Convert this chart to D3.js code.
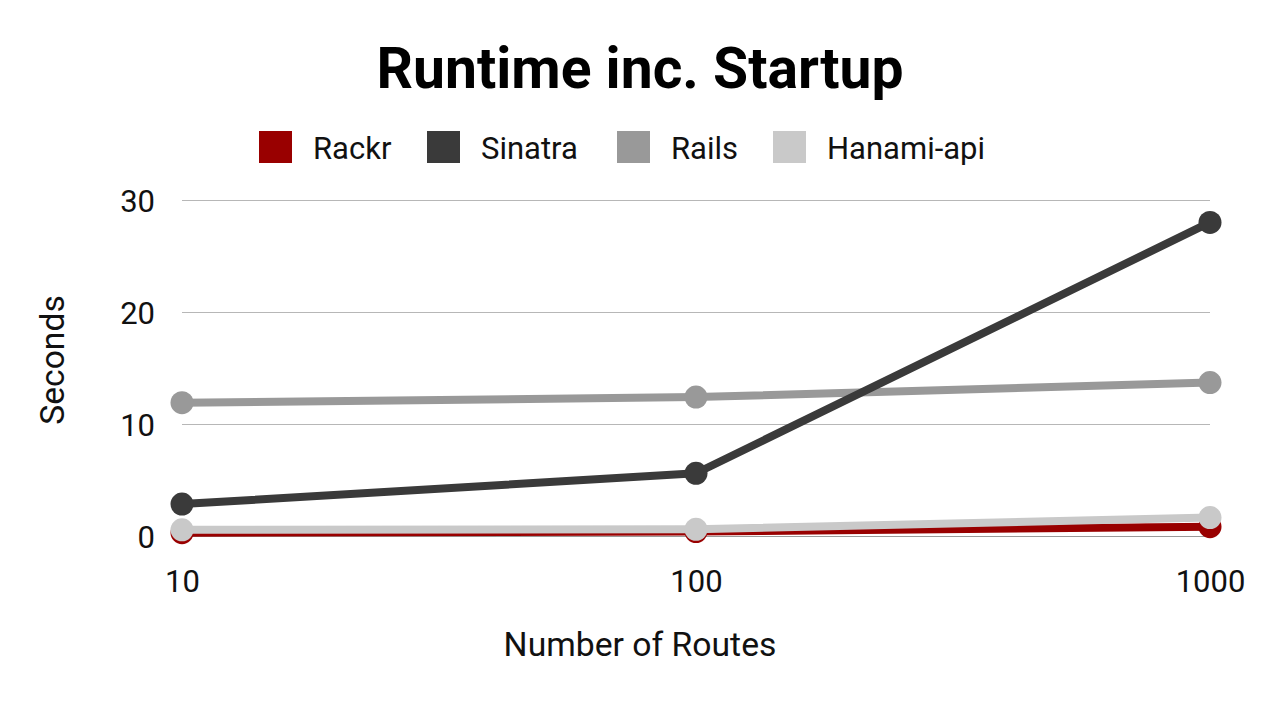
<!DOCTYPE html>
<html><head><meta charset="utf-8">
<script src="https://cdn.jsdelivr.net/npm/d3@7"></script>
<style>body{margin:0;background:#fff}svg{display:block}text{font-family:Roboto,"Noto Sans",sans-serif}</style>
</head><body><svg id="c" width="1280" height="720"></svg>
<script>
const routes = [10, 100, 1000];
const seriesNames = ["Rackr", "Sinatra", "Rails", "Hanami-api"];
const seriesColors = ["#990000", "#3a3a3a", "#999999", "#c9c9c9"];
const rackr = [0.3, 0.4, 0.83];
const sinatra = [2.85, 5.6, 28.0];
const rails = [11.9, 12.4, 13.7];
const hanami = [0.55, 0.6, 1.65];
const yTicks = [0, 10, 20, 30];

const values = [rackr, sinatra, rails, hanami];
const svg = d3.select("#c");
const x = d3.scaleLog().domain([10, 1000]).range([182, 1210]);
const y = d3.scaleLinear().domain([0, 30]).range([536, 200]);

svg.append("text").attr("x", 640).attr("y", 88).attr("text-anchor", "middle")
  .attr("font-size", 57).attr("font-weight", 700).attr("fill", "#000").text("Runtime inc. Startup");

// grid
const yAxis = d3.axisLeft(y).tickValues(yTicks).tickSize(-(1210 - 182)).tickFormat(d3.format("d"));
const gy = svg.append("g").attr("transform", "translate(182,0)").call(yAxis);
gy.select(".domain").remove();
gy.selectAll(".tick line").attr("stroke", "#b7b7b7").attr("stroke-width", 1);
gy.selectAll(".tick text").attr("x", -27).attr("font-size", 31).attr("fill", "#111").attr("dy", "0.36em");
gy.selectAll(".tick").filter(d => d === 0).select("line").attr("stroke", "#999");

const xAxis = d3.axisBottom(x).tickValues(routes).tickSize(0).tickFormat(d3.format("d"));
const gx = svg.append("g").attr("transform", "translate(0,536)").call(xAxis);
gx.select(".domain").remove();
gx.selectAll(".tick text").attr("font-size", 31).attr("fill", "#111").attr("dy", 0).attr("y", 56)
  .attr("text-anchor", "middle");

svg.append("text").attr("x", 640).attr("y", 656).attr("text-anchor", "middle").attr("font-size", 33.7).attr("fill", "#111").text("Number of Routes");
svg.append("text").attr("transform", "translate(64,360) rotate(-90)").attr("text-anchor", "middle").attr("font-size", 33.7).attr("fill", "#111").text("Seconds");

const line = d3.line().x((d, i) => x(routes[i])).y(d => y(d));
const order = [2, 1, 0, 3];
order.forEach(k => {
  const g = svg.append("g");
  g.append("path").datum(values[k]).attr("d", line).attr("fill", "none")
    .attr("stroke", seriesColors[k]).attr("stroke-width", 8).attr("stroke-linejoin", "round");
  g.selectAll("circle").data(values[k]).join("circle")
    .attr("cx", (d, i) => x(routes[i])).attr("cy", d => y(d)).attr("r", 11.5).attr("fill", seriesColors[k]);
});

// legend
const legX = [259, 427, 617, 773];
const leg = svg.append("g");
seriesNames.forEach((n, i) => {
  leg.append("rect").attr("x", legX[i]).attr("y", 131).attr("width", 33).attr("height", 32).attr("fill", seriesColors[i]);
  leg.append("text").attr("x", legX[i] + 54).attr("y", 148).attr("dy", "0.36em").attr("font-size", 31).attr("fill", "#111").text(n);
});
</script></body></html>
